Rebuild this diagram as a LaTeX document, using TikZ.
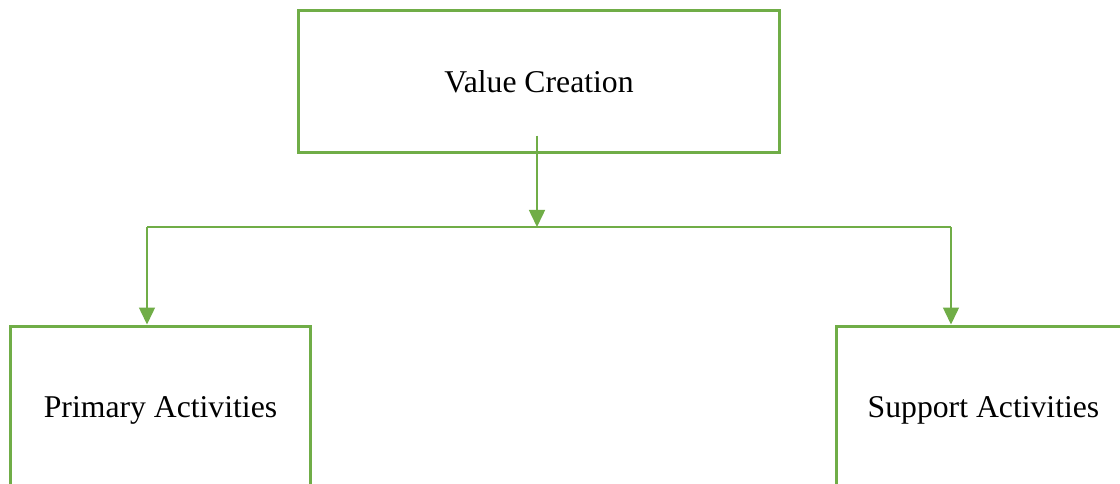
\documentclass[tikz,border=0pt]{standalone}
\usepackage{fontspec}
\setmainfont{Liberation Serif}
\usetikzlibrary{arrows.meta}
\definecolor{officegreen}{HTML}{70AD47}
\tikzset{
  box/.style={draw=officegreen, line width=3pt, rectangle, align=center,
    inner sep=0pt, font=\fontsize{31.7}{38}\selectfont},
  conn/.style={draw=officegreen, line width=1.5pt},
  arr/.style={conn, -{Triangle[width=16pt,length=17pt]}, fill=officegreen}
}
\begin{document}
\begin{tikzpicture}[x=1pt,y=-1pt]
\clip (0,0) rectangle (1120,484);
\fill[white] (0,0) rectangle (1120,484);
\node[box, minimum width=481pt, minimum height=142pt] (vc) at (539,81.5) {\raisebox{-1pt}{Value Creation}};
\node[box, minimum width=300pt, minimum height=168pt] (pa) at (160.5,410) {Primary Activities};
\node[box, minimum width=294pt, minimum height=168pt] (sa) at (983.5,410) {Support Activities};
\coordinate (s) at (537,136);
\coordinate (j) at (537,227);
\coordinate (jl) at (147,227);
\coordinate (jr) at (951,227);
\draw[arr] (s) -- (j);
\draw[conn] (jl) -- (jr);
\draw[arr] (jl) -- (jl |- pa.north);
\draw[arr] (jr) -- (jr |- sa.north);
\end{tikzpicture}
\end{document}
